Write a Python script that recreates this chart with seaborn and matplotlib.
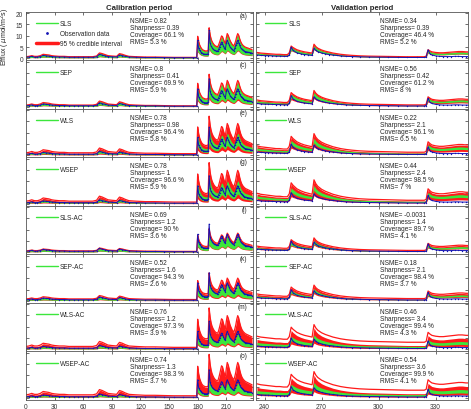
import matplotlib
matplotlib.use("Agg")
import matplotlib.pyplot as plt
from matplotlib.lines import Line2D
import numpy as np
import pandas as pd
import seaborn as sns

sns.set_theme(style="ticks")
plt.rcParams["font.family"] = ["Liberation Sans", "DejaVu Sans"]

models = ["SLS", "SEP", "WLS", "WSEP", "SLS-AC", "SEP-AC", "WLS-AC", "WSEP-AC"]
cal_tags = ["(a)", "(c)", "(e)", "(g)", "(i)", "(k)", "(m)", "(o)"]

cal_nsme = ["0.82", "0.8", "0.78", "0.78", "0.69", "0.52", "0.76", "0.74"]
cal_sharp = ["0.39", "0.41", "0.98", "1", "1.2", "1.6", "1.2", "1.3"]
cal_cov = ["66.1", "69.9", "96.4", "96.6", "90", "94.3", "97.3", "98.3"]
cal_rms = ["5.3", "5.9", "5.8", "5.9", "3.6", "2.6", "3.9", "3.7"]

val_nsme = ["0.34", "0.56", "0.22", "0.44", "-0.0031", "0.18", "0.46", "0.54"]
val_sharp = ["0.39", "0.42", "2.1", "2.4", "1.4", "2.1", "3.4", "3.6"]
val_cov = ["46.4", "61.2", "96.1", "98.5", "89.7", "98.4", "99.4", "99.9"]
val_rms = ["5.2", "8", "6.5", "7", "4.1", "3.7", "4.3", "4.1"]

# calibration period (days)
cal_day = [0, 3, 6, 9, 12, 15, 18, 21, 24, 27, 30, 35, 40, 45, 50, 55, 60, 65, 70, 74,
           77, 80, 83, 86, 90, 95, 98, 101, 104, 108, 115, 125, 135, 145, 155, 165, 175, 179] \
    + list(range(180, 238))
cal_obs = [0.5, 0.6, 0.9, 0.5, 0.6, 0.8, 1.3, 1.1, 1.0, 0.8, 0.7, 0.6, 0.6, 0.5, 0.5, 0.5, 0.5, 0.5, 0.5, 0.7,
           1.8, 1.4, 1.1, 0.8, 0.7, 0.6, 1.5, 1.2, 0.9, 0.6, 0.5, 0.4, 0.4, 0.35, 0.3, 0.3, 0.3, 0.3,
           8.0, 4.5, 3.5, 3.0, 2.5, 2.2, 2.0, 1.9, 1.8, 1.8, 1.8, 2.0, 12.5, 7.0, 5.5, 4.8, 4.2, 3.8, 3.5, 3.3,
           3.2, 3.1, 4.0, 5.0, 6.2, 7.2, 6.5, 5.5, 4.6, 4.0, 6.8, 8.0, 7.0, 6.0, 5.0, 4.5, 4.0, 3.6, 3.4, 4.5,
           5.8, 7.0, 8.0, 7.0, 5.8, 4.8, 4.2, 3.8, 3.5, 3.2, 3.0, 2.9, 2.8, 2.7, 2.6, 2.5, 2.4, 2.3]
cal_pred = [0.5, 0.6, 0.8, 0.6, 0.6, 0.8, 1.2, 1.1, 1.0, 0.8, 0.7, 0.6, 0.6, 0.5, 0.5, 0.5, 0.5, 0.5, 0.5, 0.7,
            1.6, 1.4, 1.1, 0.8, 0.7, 0.6, 1.4, 1.2, 0.9, 0.6, 0.5, 0.4, 0.4, 0.35, 0.3, 0.3, 0.3, 0.3,
            6.5, 5.0, 4.0, 3.4, 2.9, 2.6, 2.4, 2.3, 2.2, 2.2, 2.2, 2.4, 9.0, 7.0, 5.8, 5.0, 4.5, 4.1, 3.8, 3.6,
            3.5, 3.4, 4.0, 4.8, 5.7, 6.6, 6.4, 5.6, 4.9, 4.4, 6.0, 7.3, 6.8, 6.0, 5.2, 4.7, 4.2, 3.9, 3.7, 4.4,
            5.3, 6.5, 7.3, 6.8, 5.8, 5.0, 4.4, 4.0, 3.7, 3.5, 3.3, 3.2, 3.1, 3.0, 2.9, 2.8, 2.7, 2.6]

# validation period (days)
val_day = [236, 238, 240, 242, 244, 246, 248, 250, 252, 253, 254, 255, 257, 259, 261, 263, 265, 266, 267, 268,
           270, 272, 274, 276, 278, 280, 283, 286, 290, 295, 300, 305, 310, 315, 320, 324, 325, 326, 327, 328,
           330, 332, 334, 336, 338, 340, 342, 344, 346, 347]
val_obs = [1.5, 1.3, 1.2, 1.2, 1.1, 1.0, 1.0, 0.9, 0.9, 1.5, 5.0, 3.5, 2.5, 2.0, 1.7, 1.5, 1.3, 4.5, 3.5, 3.0,
           2.4, 2.0, 1.7, 1.5, 1.3, 1.1, 0.9, 0.8, 0.7, 0.6, 0.55, 0.5, 0.45, 0.4, 0.4, 0.4, 0.6, 3.8, 2.0, 1.5,
           1.1, 0.9, 0.8, 0.8, 0.8, 0.9, 0.9, 0.8, 0.8, 0.8]
val_pred = [1.9, 1.7, 1.6, 1.5, 1.4, 1.3, 1.3, 1.2, 1.2, 1.8, 4.0, 3.5, 2.8, 2.4, 2.1, 1.9, 1.7, 4.6, 3.8, 3.3,
            2.7, 2.3, 2.0, 1.7, 1.5, 1.3, 1.1, 0.95, 0.8, 0.7, 0.65, 0.6, 0.55, 0.5, 0.5, 0.5, 0.7, 2.8, 2.4, 2.1,
            1.9, 1.8, 1.8, 1.9, 2.0, 2.1, 2.2, 2.2, 2.1, 2.1]

# band scale factors read per model (multiplier of prediction, offset)
cal_glo_m = [0.5, 0.5, 0.6, 0.6, 0.4, 0.4, 0.4, 0.4]
cal_ghi_m = [1.45, 1.5, 1.35, 1.4, 1.0, 1.05, 0.95, 0.9]
cal_rlo_m = [0.45, 0.4, 0.35, 0.35, 0.35, 0.3, 0.3, 0.3]
cal_rhi_m = [1.5, 1.6, 1.9, 2.0, 1.15, 1.35, 2.0, 2.1]
cal_rhi_b = [0.0, 0.0, 0.2, 0.2, 0.1, 0.2, 0.3, 0.3]

val_glo_m = [0.9, 1.0, 1.2, 1.3, 0.8, 0.85, 0.9, 0.9]
val_glo_b = [0.0, 0.0, 0.0, 0.0, 0.0, 0.0, 0.2, 0.2]
val_ghi_m = [1.25, 1.4, 1.6, 1.7, 1.15, 1.2, 1.25, 1.3]
val_ghi_b = [0.0, 0.0, 0.2, 0.3, 0.0, 0.0, 0.7, 0.8]
val_rlo_m = [0.85, 0.8, 0.8, 0.8, 0.7, 0.7, 0.6, 0.6]
val_rhi_m = [1.35, 1.55, 2.0, 2.2, 1.35, 1.45, 1.9, 2.0]
val_rhi_b = [0.05, 0.1, 0.4, 0.5, 0.2, 0.3, 2.2, 2.4]

GREEN = "#3ce63c"
RED = "#ff1a1a"
BLUE = "#1414b4"
FS = 4.7

W, H = 471, 410
top, rowh = 12.7, 48.5


def draw(ax, day, obs, pred, glo, glo_b, ghi, ghi_b, rlo, rhi, rhi_b):
    d = np.array(day, dtype=float)
    p = np.array(pred)
    # red band: solid where it follows the prediction, upper edge drawn as a line
    ax.fill_between(d, p * rlo, p * rhi + rhi_b * 0.35, color=RED, lw=0)
    ax.plot(d, p * rhi + rhi_b, color=RED, lw=0.9)
    ax.fill_between(d, p * glo + glo_b, p * ghi + ghi_b, color=GREEN, lw=0)
    df = pd.DataFrame({"day": d, "obs": obs})
    sns.lineplot(data=df, x="day", y="obs", ax=ax, color=BLUE, lw=0.7,
                 marker="o", markersize=1.0, markeredgewidth=0, legend=False)


def style(ax, xticks, xlim, row):
    ax.set_xlim(*xlim)
    ax.set_ylim(-0.8, 20.6)
    ax.set_xticks(xticks)
    ax.set_yticks([0, 5, 10, 15, 20])
    ax.tick_params(direction="in", length=2, width=0.5, top=True, right=True,
                   labelsize=FS, pad=2, colors="#333333",
                   labelbottom=False, labelleft=False)
    if row == 7:
        ax.tick_params(axis="x", labelbottom=True, pad=2.6)
    ax.set_xlabel("")
    ax.set_ylabel("")
    for s in ax.spines.values():
        s.set_linewidth(0.6)
        s.set_color("#555555")


fig = plt.figure(figsize=(W / 100, H / 100), dpi=100)

for i, name in enumerate(models):
    y0 = (H - top - (i + 1) * rowh) / H
    axL = fig.add_axes([26 / W, y0, 227 / W, rowh / H])
    axR = fig.add_axes([256 / W, y0, 212 / W, rowh / H])

    draw(axL, cal_day, cal_obs, cal_pred, cal_glo_m[i], 0.0, cal_ghi_m[i], 0.0,
         cal_rlo_m[i], cal_rhi_m[i], cal_rhi_b[i])
    draw(axR, val_day, val_obs, val_pred, val_glo_m[i], val_glo_b[i], val_ghi_m[i], val_ghi_b[i],
         val_rlo_m[i], val_rhi_m[i], val_rhi_b[i])

    style(axL, list(range(0, 211, 30)), (0, 238), i)
    style(axR, [240, 270, 300, 330], (235.5, 347), i)

    axL.text(0.458, 0.9, f"NSME= {cal_nsme[i]}\nSharpness= {cal_sharp[i]}\n"
             f"Coverage= {cal_cov[i]} %\nRMS= {cal_rms[i]} %",
             transform=axL.transAxes, va="top", ha="left", fontsize=FS, linespacing=1.0)
    axR.text(0.585, 0.9, f"NSME= {val_nsme[i]}\nSharpness= {val_sharp[i]}\n"
             f"Coverage= {val_cov[i]} %\nRMS= {val_rms[i]} %",
             transform=axR.transAxes, va="top", ha="left", fontsize=FS, linespacing=1.0)
    axL.text(0.975, 0.985, cal_tags[i], transform=axL.transAxes, va="top", ha="right", fontsize=FS)

    green_h = Line2D([], [], color=GREEN, lw=1.0)
    if i == 0:
        handles = [green_h,
                   Line2D([], [], color=BLUE, lw=0, marker="o", markersize=1.0),
                   Line2D([], [], color=RED, lw=2.5)]
        labels = [name, "Observation data", "95 % credible interval"]
        axL.tick_params(labelleft=True)
        axL.set_ylabel(r"Efflux ( $\mu$mol/m$^2$s)", fontsize=FS + 0.3, labelpad=2.5)
        axL.set_title("Calibration period", fontsize=5.6, fontweight="bold", pad=2)
        axR.set_title("Validation period", fontsize=5.6, fontweight="bold", pad=2)
    else:
        handles, labels = [green_h], [name]
    axL.legend(handles, labels, loc="upper left", bbox_to_anchor=(0.045, 0.82), frameon=False,
               fontsize=FS, handlelength=3.3, handletextpad=0.3, labelspacing=0.45,
               borderpad=0, borderaxespad=0)
    axR.legend([green_h], [name], loc="upper left", bbox_to_anchor=(0.042, 0.82), frameon=False,
               fontsize=FS, handlelength=3.3, handletextpad=0.3, borderpad=0, borderaxespad=0)

fig.savefig("out.png", dpi=100)
